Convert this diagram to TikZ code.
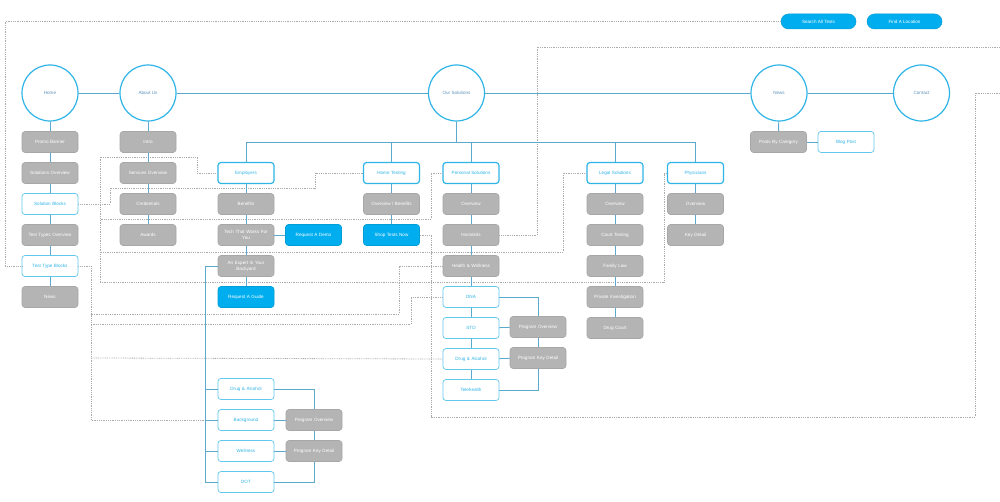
\documentclass[tikz,border=0pt]{standalone}
\usepackage{fontspec}
\setmainfont{Liberation Sans}
\definecolor{RingBlue}{HTML}{2EB4E7}
\definecolor{LinkBlue}{HTML}{5BA9CF}
\definecolor{HubText}{HTML}{5F93B9}
\definecolor{PageFill}{HTML}{B4B4B4}
\definecolor{PageLine}{HTML}{A7A7A7}
\definecolor{CtaFill}{HTML}{00AEEF}
\definecolor{JumpGray}{HTML}{ABABAB}

\begin{document}
\begin{tikzpicture}[x=1pt,y=-1pt,
    every node/.style={font=\fontsize{4.6}{6}\selectfont,align=center},
    hub/.style={circle,draw=RingBlue,line width=1.2pt,fill=white,minimum size=56pt,inner sep=0pt,text=HubText},
    pagebox/.style={rounded corners=3pt,draw=PageLine,line width=0.6pt,fill=PageFill,text=white,
      text width=52pt,inner xsep=2pt,inner ysep=1pt,minimum height=21pt},
    catbox/.style={pagebox,draw=RingBlue,line width=1.2pt,fill=white,text=RingBlue},
    blockbox/.style={pagebox,draw=RingBlue!75,line width=0.7pt,fill=white,text=RingBlue},
    ctabox/.style={pagebox,draw=CtaFill!90!black,fill=CtaFill},
    pill/.style={rounded corners=7.5pt,fill=CtaFill,draw=CtaFill!90!black,line width=0.5pt,text=white,
      minimum width=75pt,minimum height=15pt,inner sep=0pt},
    link/.style={draw=LinkBlue,line width=0.9pt},
    jump/.style={draw=JumpGray,line width=0.8pt,dash pattern=on 0.9pt off 0.9pt}]
  \fill[white] (0,0) rectangle (1000,502);
  \useasboundingbox (0,0) rectangle (1000,502);

  % top level pages
  \node[hub] (home) at (50,93) {Home};
  \node[hub] (about) at (148,93) {About Us};
  \node[hub] (sol) at (456.5,93) {Our Solutions};
  \node[hub] (news) at (779,93) {News};
  \node[hub] (contact) at (921.5,93) {Contact};
  \node[pill] (search) at (818.5,21.5) {Search All Tests};
  \node[pill] (find) at (904.5,21.5) {Find A Location};

  % home
  \foreach \t/\s [count=\i] in {Promo Banner/pagebox,Solutions Overview/pagebox,Solution Blocks/blockbox,
      Test Types Overview/pagebox,Test Type Blocks/blockbox,News/pagebox}
    \node[\s] (h\i) at (50,{142+31*(\i-1)}) {\t};
  % about us
  \foreach \t [count=\i] in {Intro,Services Overview,Credentials,Awards}
    \node[pagebox] (a\i) at (148,{142+31*(\i-1)}) {\t};

  % solutions
  \foreach \t/\s [count=\i] in {Employers/catbox,Benefits/pagebox,Tech That Works For\\You/pagebox,
      An Expert In Your\\Backyard/pagebox,Request A Guide/ctabox}
    \node[\s] (e\i) at (246,{173+31*(\i-1)}) {\t};
  \node[ctabox] (demo) at (313.5,235) {Request A Demo};
  \node[catbox] (t1) at (391.5,173) {Home Testing};
  \node[pagebox] (t2) at (391.5,204) {Overview / Benefits};
  \node[ctabox] (t3) at (391.5,235) {Shop Tests Now};
  \foreach \t/\s [count=\i] in {Personal Solutions/catbox,Overview/pagebox,Homekits/pagebox,
      Health \& Wellness/pagebox,DNA/blockbox,STD/blockbox,Drug \& Alcohol/blockbox,Telehealth/blockbox}
    \node[\s] (p\i) at (471,{173+31*(\i-1)}) {\t};
  \node[pagebox] (pov) at (538,327) {Program Overview};
  \node[pagebox] (pkd) at (538,358) {Program Key Detail};
  \foreach \t/\s [count=\i] in {Legal Solutions/catbox,Overview/pagebox,Court Testing/pagebox,
      Family Law/pagebox,Private Investigation/pagebox,Drug Court/pagebox}
    \node[\s] (l\i) at (615,{173+31*(\i-1)}) {\t};
  \foreach \t/\s [count=\i] in {Physicians/catbox,Overview/pagebox,Key Detail/pagebox}
    \node[\s] (ph\i) at (695.5,{173+31*(\i-1)}) {\t};

  % employer programs
  \foreach \t [count=\i] in {Drug \& Alcohol,Background,Wellness,DOT}
    \node[blockbox] (b\i) at (246,{389+31*(\i-1)}) {\t};
  \node[pagebox] (bov) at (314,420) {Program Overview};
  \node[pagebox] (bkd) at (314,451) {Program Key Detail};

  % news
  \node[pagebox] (pbc) at (778.5,142) {Posts By Category};
  \node[blockbox] (blog) at (846,142) {Blog Post};

  % cross links
  \draw[jump] (search.west) -- (5,21.5) |- (h5.west);
  \draw[jump] (p3.east) -| (537,47) -- (1000,47);
  \draw[jump] (t3.east) -| (431,417) -| (975,93) -- (1000,93);
  \draw[jump] (e1.west) -| (197,157) -| (100,282);
  \draw[jump] (p1.west) -| (431,219) -- (100,219);
  \draw[jump] (l1.west) -| (563,252) -- (100,252);
  \draw[jump] (ph1.west) -| (664,282) -- (100,282);
  \draw[jump] (h3.east) -| (110,188) -| (315,173) -- (t1.west);
  \draw[jump] (p4.west) -| (399,314) -- (91,314);
  \draw[jump] (p5.west) -| (411,324) -- (91,324);
  \draw[jump] (p7.west) -- (91,358);
  \draw[jump] (h5.east) -| (91,420) -- (205,420);

  % tree
  \draw[link] (home) -- (about);
  \draw[link] (about) -- (sol);
  \draw[link] (sol) -- (news);
  \draw[link] (news) -- (contact);
  \draw[link] (home) -- (h1);
  \draw[link] (about) -- (a1);
  \draw[link] (news) -- (pbc);
  \draw[link] (pbc) -- (blog);
  \coordinate (fork) at (456.5,142);
  \draw[link] (sol) -- (fork);
  \foreach \k in {e1,t1,p1,l1,ph1}
    \draw[link] (\k.north) |- (fork);
  \foreach \c/\n in {h/6,a/4,e/5,t/3,p/8,l/6,ph/3}
    \foreach \i in {2,...,\n} {
      \pgfmathtruncatemacro{\k}{\i-1}
      \draw[link] (\c\k) -- (\c\i);
    }
  \draw[link] (e3) -- (demo);
  \coordinate (spine) at (205,266);
  \draw[link] (e4.west) -- (spine) |- (b4.west);
  \foreach \k in {b1,b2,b3}
    \draw[link] (\k.west) -- (\k.west -| spine);
  \draw[link] (b1.east) -| (bov.north);
  \draw[link] (b4.east) -| (bkd.south);
  \draw[link] (b2) -- (bov);
  \draw[link] (b3) -- (bkd);
  \draw[link] (bov) -- (bkd);
  \draw[link] (p5.east) -| (pov.north);
  \draw[link] (p8.east) -| (pkd.south);
  \draw[link] (p6) -- (pov);
  \draw[link] (p7) -- (pkd);
  \draw[link] (pov) -- (pkd);
\end{tikzpicture}
\end{document}
